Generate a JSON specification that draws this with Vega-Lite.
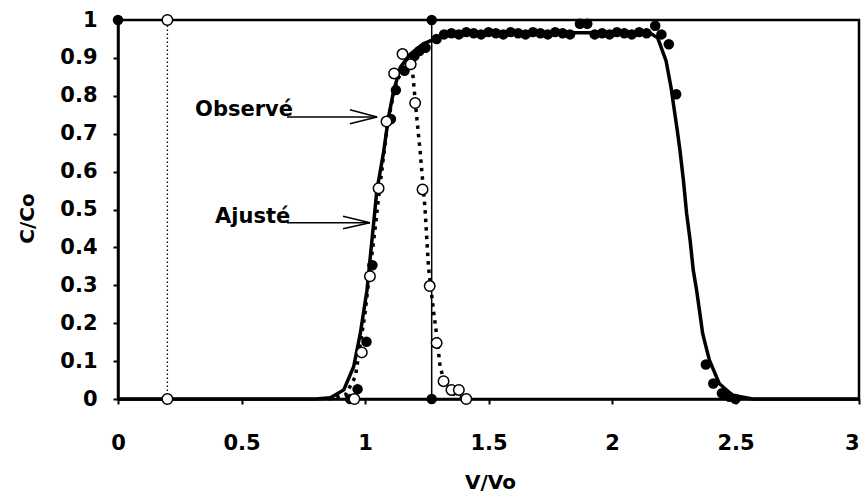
{
  "$schema": "https://vega.github.io/schema/vega-lite/v6.json",
  "autosize": {"type": "none"},
  "padding": {"left": 118, "top": 20, "right": 5, "bottom": 100},
  "width": 741,
  "height": 379,
  "background": "white",
  "config": {
    "view": {"stroke": "black", "strokeWidth": 2.5},
    "axis": {
      "grid": false,
      "domainColor": "black",
      "domainWidth": 2.5,
      "tickColor": "black",
      "tickWidth": 2,
      "tickSize": 5,
      "labelFlush": false,
      "labelOverlap": false,
      "labelFont": "DejaVu Sans",
      "labelFontWeight": "bold",
      "labelFontSize": 21,
      "labelColor": "black",
      "titleFont": "DejaVu Sans",
      "titleFontWeight": "bold",
      "titleFontSize": 20,
      "titleColor": "black"
    }
  },
  "datasets": {
    "fitSolid": [
      {"x": 0, "y": 0}, {"x": 0.8, "y": 0}, {"x": 0.86, "y": 0.003}, {"x": 0.914, "y": 0.024},
      {"x": 0.954, "y": 0.085}, {"x": 0.981, "y": 0.173}, {"x": 1.008, "y": 0.287},
      {"x": 1.028, "y": 0.418}, {"x": 1.048, "y": 0.55}, {"x": 1.075, "y": 0.65},
      {"x": 1.095, "y": 0.743}, {"x": 1.116, "y": 0.813}, {"x": 1.143, "y": 0.875},
      {"x": 1.183, "y": 0.91}, {"x": 1.236, "y": 0.937}, {"x": 1.3, "y": 0.955},
      {"x": 1.371, "y": 0.965}, {"x": 2.15, "y": 0.967}, {"x": 2.185, "y": 0.953},
      {"x": 2.219, "y": 0.892}, {"x": 2.239, "y": 0.822}, {"x": 2.264, "y": 0.71},
      {"x": 2.275, "y": 0.657}, {"x": 2.289, "y": 0.578}, {"x": 2.302, "y": 0.49},
      {"x": 2.316, "y": 0.42}, {"x": 2.329, "y": 0.34}, {"x": 2.343, "y": 0.285},
      {"x": 2.356, "y": 0.225}, {"x": 2.367, "y": 0.173}, {"x": 2.394, "y": 0.103},
      {"x": 2.434, "y": 0.041}, {"x": 2.488, "y": 0.01}, {"x": 2.57, "y": 0.0},
      {"x": 3.0, "y": 0}
    ],
    "fitDotted": [
      {"x": 0.85, "y": 0}, {"x": 0.92, "y": 0.01}, {"x": 0.961, "y": 0.059},
      {"x": 1.0, "y": 0.226}, {"x": 1.02, "y": 0.34}, {"x": 1.04, "y": 0.445},
      {"x": 1.06, "y": 0.56}, {"x": 1.09, "y": 0.72}, {"x": 1.12, "y": 0.82},
      {"x": 1.15, "y": 0.87}, {"x": 1.175, "y": 0.89}, {"x": 1.193, "y": 0.86},
      {"x": 1.21, "y": 0.74}, {"x": 1.223, "y": 0.655}, {"x": 1.243, "y": 0.502},
      {"x": 1.257, "y": 0.348}, {"x": 1.277, "y": 0.234}, {"x": 1.291, "y": 0.164},
      {"x": 1.304, "y": 0.085}, {"x": 1.324, "y": 0.041}, {"x": 1.371, "y": 0.006},
      {"x": 1.45, "y": 0}
    ],
    "pulseFilled": [
      {"x": 0, "y": 1}, {"x": 1.27, "y": 1}, {"x": 1.27, "y": 0}
    ],
    "pulseOpen": [
      {"x": 0.2, "y": 0}, {"x": 0.2, "y": 1}
    ],
    "obsFilled": [
      {"x": 0.94, "y": 0}, {"x": 0.97, "y": 0.026}, {"x": 1.006, "y": 0.151},
      {"x": 1.03, "y": 0.353}, {"x": 1.105, "y": 0.739}, {"x": 1.125, "y": 0.815},
      {"x": 1.16, "y": 0.866}, {"x": 1.2, "y": 0.905}, {"x": 1.22, "y": 0.918},
      {"x": 1.245, "y": 0.927}, {"x": 1.29, "y": 0.95}, {"x": 1.32, "y": 0.962},
      {"x": 1.35, "y": 0.965}, {"x": 1.38, "y": 0.962}, {"x": 1.41, "y": 0.968},
      {"x": 1.44, "y": 0.965}, {"x": 1.47, "y": 0.962}, {"x": 1.5, "y": 0.968},
      {"x": 1.53, "y": 0.965}, {"x": 1.56, "y": 0.962}, {"x": 1.59, "y": 0.968},
      {"x": 1.62, "y": 0.965}, {"x": 1.65, "y": 0.962}, {"x": 1.68, "y": 0.968},
      {"x": 1.71, "y": 0.965}, {"x": 1.74, "y": 0.962}, {"x": 1.77, "y": 0.968},
      {"x": 1.8, "y": 0.965}, {"x": 1.83, "y": 0.962}, {"x": 1.87, "y": 0.99},
      {"x": 1.9, "y": 0.99}, {"x": 1.93, "y": 0.962}, {"x": 1.96, "y": 0.965},
      {"x": 1.99, "y": 0.962}, {"x": 2.02, "y": 0.968}, {"x": 2.05, "y": 0.965},
      {"x": 2.08, "y": 0.962}, {"x": 2.11, "y": 0.968}, {"x": 2.14, "y": 0.965},
      {"x": 2.175, "y": 0.985}, {"x": 2.2, "y": 0.962}, {"x": 2.23, "y": 0.936},
      {"x": 2.26, "y": 0.804}, {"x": 2.38, "y": 0.091}, {"x": 2.41, "y": 0.041},
      {"x": 2.445, "y": 0.015}, {"x": 2.475, "y": 0.006}, {"x": 2.5, "y": 0}
    ],
    "obsOpen": [
      {"x": 0.957, "y": 0}, {"x": 0.987, "y": 0.123}, {"x": 1.02, "y": 0.324},
      {"x": 1.055, "y": 0.556}, {"x": 1.087, "y": 0.732}, {"x": 1.118, "y": 0.859},
      {"x": 1.152, "y": 0.91}, {"x": 1.185, "y": 0.883}, {"x": 1.203, "y": 0.781},
      {"x": 1.233, "y": 0.553}, {"x": 1.262, "y": 0.298}, {"x": 1.29, "y": 0.148},
      {"x": 1.318, "y": 0.047}, {"x": 1.35, "y": 0.024}, {"x": 1.38, "y": 0.024},
      {"x": 1.41, "y": 0}
    ],
    "arrows": [
      {"x": 0.684, "y": 0.744, "x2": 1.049, "y2": 0.744},
      {"x": 0.939, "y": 0.763, "x2": 1.049, "y2": 0.744},
      {"x": 0.939, "y": 0.726, "x2": 1.049, "y2": 0.744},
      {"x": 0.684, "y": 0.465, "x2": 1.02, "y2": 0.465},
      {"x": 0.911, "y": 0.482, "x2": 1.02, "y2": 0.465},
      {"x": 0.911, "y": 0.449, "x2": 1.02, "y2": 0.465}
    ],
    "labels": [
      {"x": 0.312, "y": 0.748, "label": "Observé"},
      {"x": 0.393, "y": 0.465, "label": "Ajusté"}
    ]
  },
  "encoding": {
    "x": {
      "field": "x", "type": "quantitative",
      "scale": {"domain": [0, 3], "nice": false, "zero": false},
      "axis": {"values": [0, 0.5, 1, 1.5, 2, 2.5, 3], "format": "~g", "labelPadding": 28,
               "labelAlign": {"condition": {"test": "datum.value == 3", "value": "right"}, "value": "center"},
               "title": "V/Vo", "titleX": 372, "titleY": 83, "titleBaseline": "middle"}
    },
    "y": {
      "field": "y", "type": "quantitative",
      "scale": {"domain": [0, 1], "nice": false},
      "axis": {"values": [0, 0.1, 0.2, 0.3, 0.4, 0.5, 0.6, 0.7, 0.8, 0.9, 1], "format": "~g",
               "labelPadding": 16, "title": "C/Co", "titleX": -91, "titleY": 198,
               "titleAngle": -90, "titleAlign": "center", "titleBaseline": "middle"}
    }
  },
  "layer": [
    {"data": {"name": "fitSolid"}, "mark": {"type": "line", "color": "black", "strokeWidth": 3.5}},
    {"data": {"name": "fitDotted"}, "mark": {"type": "line", "color": "black", "strokeWidth": 3.5, "strokeDash": [3.5, 5]}},
    {"data": {"name": "pulseFilled"}, "mark": {"type": "line", "color": "black", "strokeWidth": 1.5}},
    {"data": {"name": "pulseOpen"}, "mark": {"type": "line", "color": "black", "strokeWidth": 1.3, "strokeDash": [1.5, 2.5]}},
    {"data": {"name": "arrows"}, "mark": {"type": "rule", "color": "black", "strokeWidth": 1.5},
     "encoding": {"x2": {"field": "x2"}, "y2": {"field": "y2"}}},
    {"data": {"name": "labels"}, "mark": {"type": "text", "align": "left", "baseline": "alphabetic",
      "font": "DejaVu Sans", "fontWeight": "bold", "fontSize": 21, "color": "black"},
     "encoding": {"text": {"field": "label"}}},
    {"data": {"name": "obsFilled"}, "mark": {"type": "point", "shape": "circle", "filled": true, "color": "black", "size": 110, "opacity": 1}},
    {"data": {"name": "pulseFilled"}, "mark": {"type": "point", "shape": "circle", "filled": true, "color": "black", "size": 110, "opacity": 1}},
    {"data": {"name": "obsOpen"}, "mark": {"type": "point", "shape": "circle", "fill": "white", "stroke": "black", "strokeWidth": 1.5, "size": 110, "opacity": 1, "fillOpacity": 1}},
    {"data": {"name": "pulseOpen"}, "mark": {"type": "point", "shape": "circle", "fill": "white", "stroke": "black", "strokeWidth": 1.5, "size": 110, "opacity": 1, "fillOpacity": 1}}
  ]
}
